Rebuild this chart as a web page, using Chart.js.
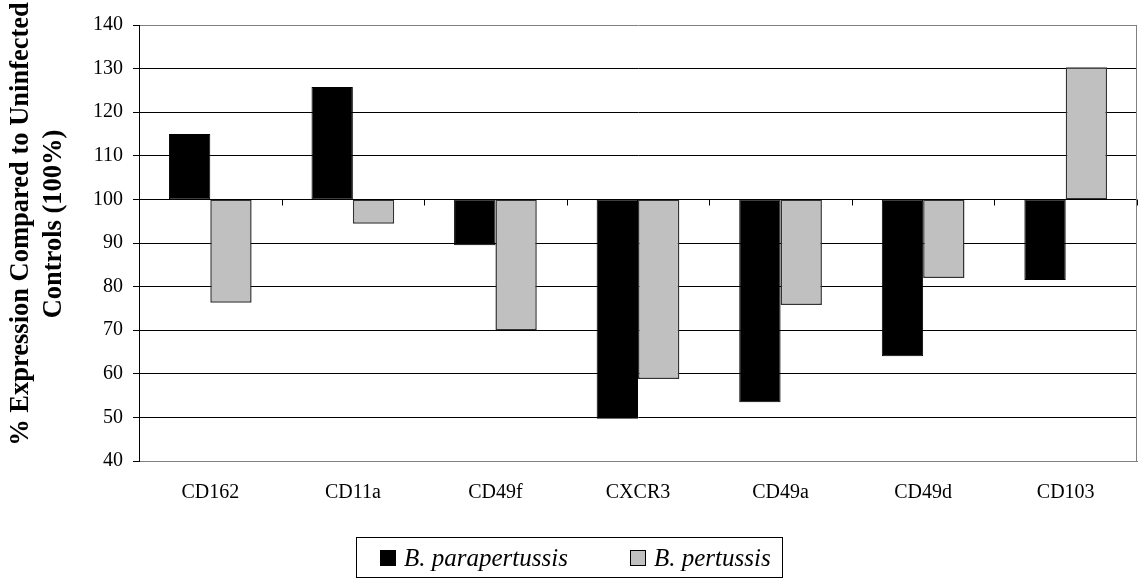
<!DOCTYPE html>
<html>
<head>
<meta charset="utf-8">
<script src="https://cdn.jsdelivr.net/npm/chart.js@4.4.1/dist/chart.umd.min.js"></script>
<style>
  html, body { margin: 0; padding: 0; background: #fff; }
  #wrap { position: relative; width: 1139px; height: 580px; }
  #legend {
    position: absolute; left: 356px; top: 537px; width: 425px; height: 39px;
    border: 1px solid #000; box-sizing: content-box;
    font-family: 'Liberation Serif', serif; font-style: italic; font-size: 25px;
    display: flex; align-items: center;
  }
  .lg-item { display: flex; align-items: center; position: absolute; top: 0; height: 39px; }
  .lg-box { width: 16px; height: 16px; border: 1px solid #000; margin-right: 8px; box-sizing: border-box; }
</style>
</head>
<body>
<div id="wrap">
  <canvas id="chart" width="1139" height="580"></canvas>
  <div id="legend"></div>
</div>
<script>
const CATEGORIES = ['CD162', 'CD11a', 'CD49f', 'CXCR3', 'CD49a', 'CD49d', 'CD103'];
const PARAPERTUSSIS = [115.0, 125.8, 89.5, 49.7, 53.5, 64.0, 81.5];
const PERTUSSIS     = [76.3, 94.4, 70.0, 58.8, 75.8, 82.0, 130.3];
const BASELINE = 100;
const Y_MIN = 40;
const Y_MAX = 140;
const Y_STEP = 10;
const Y_TITLE = ['% Expression Compared to Uninfected', 'Controls (100%)'];
const SERIES_NAMES = ['B. parapertussis', 'B. pertussis'];

const SERIF = "'Liberation Serif', 'Times New Roman', serif";

// floating bars start at the 100% baseline
function floating(values) {
  return values.map(v => [BASELINE, v]);
}

const baselinePlugin = {
  id: 'baseline',
  afterDatasetsDraw(chart) {
    const { ctx, chartArea, scales } = chart;
    const y = Math.round(scales.y.getPixelForValue(BASELINE)) + 0.5;
    ctx.save();
    ctx.strokeStyle = '#000';
    ctx.lineWidth = 1;
    ctx.beginPath();
    ctx.moveTo(chartArea.left, y);
    ctx.lineTo(chartArea.right, y);
    // tick marks between categories, pointing down
    for (let i = 0; i <= CATEGORIES.length; i++) {
      let x;
      if (i === 0) x = chartArea.left;
      else if (i === CATEGORIES.length) x = chartArea.right;
      else x = (scales.x.getPixelForValue(i - 1) + scales.x.getPixelForValue(i)) / 2;
      x = Math.round(x) + 0.5;
      ctx.moveTo(x, y);
      ctx.lineTo(x, y + 6);
    }
    ctx.stroke();
    // right border of the plot
    ctx.strokeStyle = '#808080';
    ctx.beginPath();
    ctx.moveTo(Math.round(chartArea.right) - 0.5, chartArea.top);
    ctx.lineTo(Math.round(chartArea.right) - 0.5, chartArea.bottom);
    ctx.stroke();
    ctx.restore();
  },
  afterDraw(chart) {
    const ctx = chart.ctx;
    ctx.save();
    ctx.fillStyle = '#000';
    ctx.font = 'bold 26.5px ' + SERIF;
    ctx.textAlign = 'center';
    ctx.textBaseline = 'alphabetic';
    const baselines = [28, 61];
    Y_TITLE.forEach((line, i) => {
      ctx.save();
      ctx.translate(baselines[i], 224);
      ctx.rotate(-Math.PI / 2);
      ctx.fillText(line, 0, 0);
      ctx.restore();
    });
    ctx.restore();
  }
};

const chart = new Chart(document.getElementById('chart').getContext('2d'), {
  type: 'bar',
  data: {
    labels: CATEGORIES,
    datasets: [{
      label: SERIES_NAMES[0],
      data: floating(PARAPERTUSSIS),
      backgroundColor: '#000000',
      borderColor: '#000000',
      borderWidth: 1,
      borderSkipped: false,
    }, {
      label: SERIES_NAMES[1],
      data: floating(PERTUSSIS),
      backgroundColor: '#c0c0c0',
      borderColor: '#333333',
      borderWidth: 1.5,
      borderSkipped: false,
    }]
  },
  options: {
    responsive: false,
    animation: false,
    categoryPercentage: 0.58,
    barPercentage: 1.0,
    layout: { padding: { top: 25, right: 2, left: 0, bottom: 0 } },
    plugins: {
      legend: { display: false },
      tooltip: { enabled: false },
    },
    scales: {
      x: {
        afterFit: s => { s.height = 119; },
        grid: { display: false, drawTicks: false },
        border: { display: true, color: '#808080', width: 1 },
        ticks: { color: '#000', font: { family: SERIF, size: 20 }, padding: 20, maxRotation: 0 }
      },
      y: {
        min: Y_MIN,
        max: Y_MAX,
        afterFit: s => { s.width = 139; },
        ticks: { stepSize: Y_STEP, color: '#000', font: { family: SERIF, size: 20 }, padding: 10 },
        grid: {
          color: c => (c.tick && (c.tick.value === Y_MAX || c.tick.value === Y_MIN)) ? '#808080' : '#000',
          tickColor: '#000',
          tickLength: 6,
          lineWidth: 1,
        },
        border: { display: true, color: '#000', width: 1 }
      }
    }
  },
  plugins: [baselinePlugin]
});

// legend box below the plot
function buildLegend() {
  const el = document.getElementById('legend');
  const positions = [23, 273];
  chart.data.datasets.forEach((ds, i) => {
    const item = document.createElement('div');
    item.className = 'lg-item';
    item.style.left = positions[i] + 'px';
    const box = document.createElement('span');
    box.className = 'lg-box';
    box.style.background = ds.backgroundColor;
    const txt = document.createElement('span');
    txt.textContent = ds.label;
    item.appendChild(box);
    item.appendChild(txt);
    el.appendChild(item);
  });
}
buildLegend();
</script>
</body>
</html>
